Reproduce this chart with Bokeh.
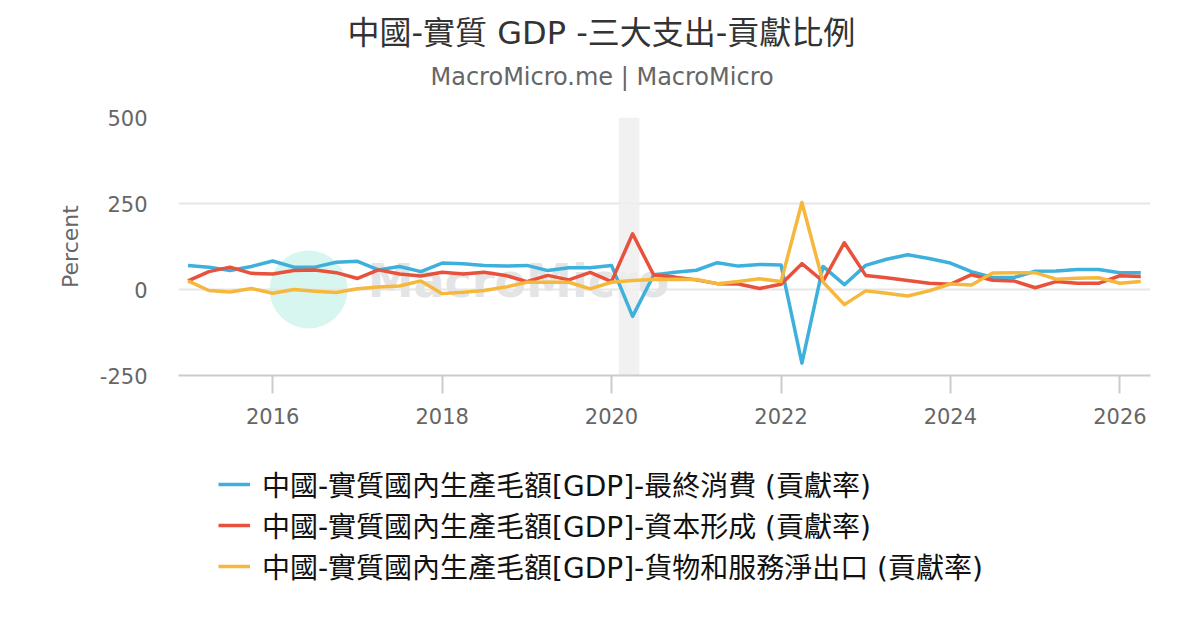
import pandas as pd
from bokeh.plotting import figure
from bokeh.layouts import column
from bokeh.models import (Range1d, FixedTicker, DatetimeTickFormatter, Title, Legend,
                          LegendItem, BoxAnnotation, Label, ColumnDataSource, PrintfTickFormatter)
from bokeh.embed import file_html
from bokeh.resources import INLINE

# ---------------- data ----------------
quarters = pd.date_range("2015-01-01", periods=46, freq="QS")

consumption = [70, 65, 55, 67, 83, 65, 65, 79, 82, 57, 67, 52,
               77, 75, 70, 68, 70, 55, 63, 63, 70, -78, 42, 50,
               56, 78, 68, 73, 71, -214, 67, 14, 70, 88, 101, 90,
               77, 52, 35, 35, 53, 54, 58, 58, 49, 49]
capital = [25, 52, 65, 47, 45, 55, 57, 49, 32, 57, 45, 39,
           50, 45, 50, 41, 23, 41, 28, 50, 23, 162, 42, 36,
           28, 17, 16, 3, 15, 75, 24, 136, 41, 34, 26, 18,
           15, 43, 27, 25, 5, 23, 18, 18, 40, 38]
net_exports = [25, -3, -7, 3, -11, 0, -5, -9, 2, 7, 10, 25,
               -12, -8, -3, 7, 21, 21, 21, 2, 21, 26, 29, 30,
               29, 17, 23, 31, 23, 253, 22, -44, -4, -11, -19, -4,
               16, 13, 48, 49, 49, 30, 33, 34, 18, 23]

series_names = [
    "中國-實質國內生產毛額[GDP]-最終消費 (貢獻率)",
    "中國-實質國內生產毛額[GDP]-資本形成 (貢獻率)",
    "中國-實質國內生產毛額[GDP]-貨物和服務淨出口 (貢獻率)",
]
series_colors = ["#3eb0dc", "#e8513b", "#f5b83d"]
tick_years = [2016, 2018, 2020, 2022, 2024, 2026]
y_ticks = [-250, 0, 250, 500]
recession = ("2020-02-01", "2020-04-30")

TITLE = "中國-實質 GDP -三大支出-貢獻比例"
SUBTITLE = "MacroMicro.me | MacroMicro"
FONT = "DejaVu Sans, Noto Sans CJK TC"

# ---------------- main chart ----------------
x_start = quarters[0] - pd.Timedelta(days=41)
x_end = quarters[-1] + pd.Timedelta(days=42)

p = figure(frame_width=972, frame_height=258, x_axis_type="datetime",
           x_range=Range1d(x_start, x_end), y_range=Range1d(-250, 500),
           output_backend="svg", toolbar_location=None,
           min_border_left=178, min_border_right=50,
           min_border_top=117, min_border_bottom=60)
p.outline_line_color = None
p.background_fill_color = "white"
p.border_fill_color = "white"

# titles (spacer nearest the frame, then subtitle, then main title)
spacer = Title(text=" ", text_font_size="1px", standoff=14)
sub = Title(text=SUBTITLE, align="left", text_font_size="24px", text_color="#666666",
            text_font_style="normal", text_font=FONT, offset=252, standoff=19)
main = Title(text=TITLE, align="left", text_font_size="32px", text_color="#333333",
             text_font_style="normal", text_font=FONT, offset=169, standoff=0)
p.add_layout(spacer, "above")
p.add_layout(sub, "above")
p.add_layout(main, "above")

# watermark
wm_date = pd.Timestamp("2016-06-04")
p.scatter(x=[wm_date], y=[0], size=78, color="#d7f6ef", line_color=None, level="underlay")
p.add_layout(Label(x=pd.Timestamp("2017-02-14"), y=-55, text="MacroMicro",
                   text_font_size="46px", text_font_style="bold", text_color="#e3e4e6",
                   text_font="DejaVu Sans", level="underlay"))

# recession band
p.add_layout(BoxAnnotation(left=pd.Timestamp(recession[0]), right=pd.Timestamp(recession[1]),
                           fill_color="#eeeeee", fill_alpha=0.85, line_color=None,
                           level="underlay"))

# lines
src = ColumnDataSource(dict(x=quarters, c=consumption, k=capital, n=net_exports))
for col, color in zip(["c", "k", "n"], series_colors):
    p.line("x", col, source=src, line_color=color, line_width=3.5, line_join="round")

# axes
p.xaxis.ticker = FixedTicker(ticks=[pd.Timestamp(f"{y}-01-01").value / 1e6 for y in tick_years])
p.xaxis.formatter = DatetimeTickFormatter(years="%Y", months="%Y", days="%Y", hours="%Y")
p.xaxis.axis_line_color = "#cccccc"
p.xaxis.axis_line_width = 2
p.xaxis.major_tick_line_color = "#cccccc"
p.xaxis.major_tick_line_width = 2
p.xaxis.major_tick_out = 18
p.xaxis.major_tick_in = 0
p.xaxis.minor_tick_line_color = None
p.xaxis.major_label_standoff = 14
p.xaxis.major_label_text_font_size = "21px"
p.xaxis.major_label_text_color = "#666666"
p.xaxis.major_label_text_font = "DejaVu Sans"

p.yaxis.ticker = FixedTicker(ticks=y_ticks)
p.yaxis.formatter = PrintfTickFormatter(format="%d")
p.yaxis.axis_line_color = None
p.yaxis.major_tick_line_color = None
p.yaxis.minor_tick_line_color = None
p.yaxis.major_label_standoff = 25
p.yaxis.major_label_text_font_size = "21px"
p.yaxis.major_label_text_color = "#666666"
p.yaxis.major_label_text_font = "DejaVu Sans"
p.yaxis.axis_label = "Percent"
p.yaxis.axis_label_text_font_size = "22px"
p.yaxis.axis_label_text_font_style = "normal"
p.yaxis.axis_label_text_color = "#666666"
p.yaxis.axis_label_text_font = "DejaVu Sans"
p.yaxis.axis_label_standoff = 14

p.xgrid.grid_line_color = None
p.ygrid.grid_line_color = "#e6e6e6"
p.ygrid.grid_line_width = 2

# ---------------- legend strip (separate svg figure below the chart) ----------------
lg = figure(width=1200, height=195, output_backend="svg", toolbar_location=None,
            x_range=Range1d(0, 1), y_range=Range1d(0, 1),
            x_axis_location=None, y_axis_location=None, min_border=0)
lg.outline_line_color = None
lg.grid.visible = False
# same series drawn here only to supply legend glyphs (they fall outside this strip's range)
lg_renderers = [lg.line("x", col, source=src, line_color=c, line_width=3.5)
                for col, c in zip(["c", "k", "n"], series_colors)]
legend = Legend(items=[LegendItem(label=n, renderers=[r]) for n, r in zip(series_names, lg_renderers)],
                orientation="vertical", location=(40, 44),
                label_text_font_size="28px", label_text_font=FONT, label_text_color="#111111",
                glyph_width=32, glyph_height=28, label_height=28, label_standoff=12,
                spacing=1, padding=0, margin=0, border_line_color=None,
                background_fill_alpha=0)
lg.add_layout(legend, "center")

open("out.html", "w").write(file_html(column(p, lg, spacing=0), INLINE))
